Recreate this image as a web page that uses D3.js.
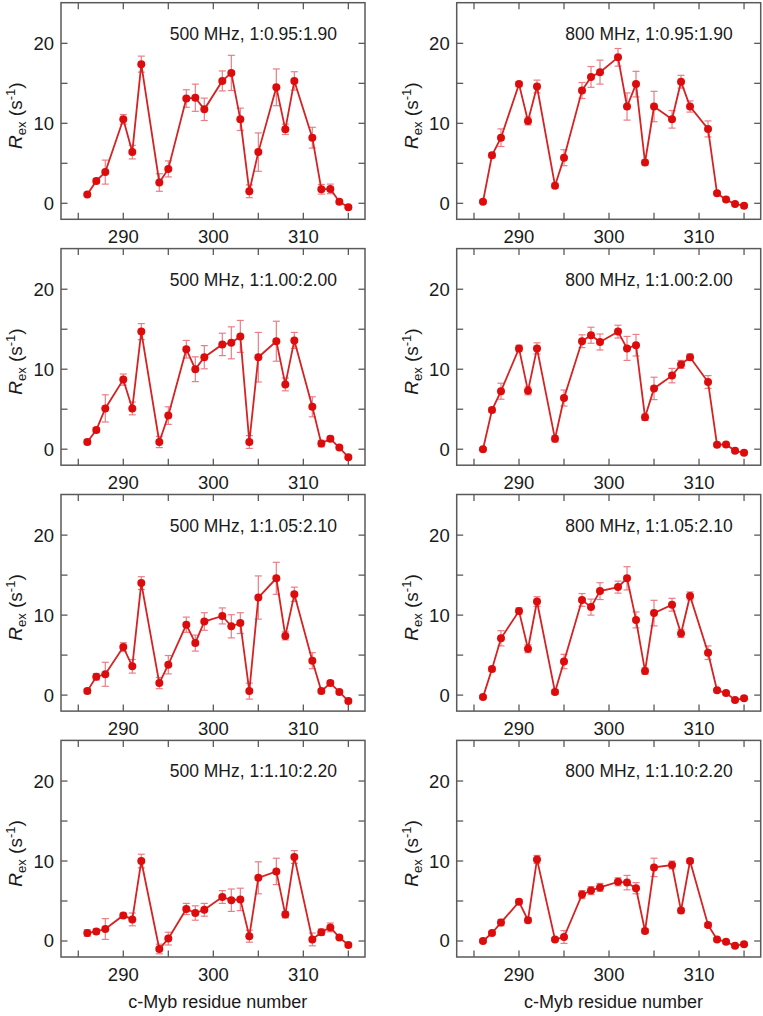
<!DOCTYPE html>
<html><head><meta charset="utf-8">
<script src="https://cdn.jsdelivr.net/npm/d3@7"></script>
<style>
html,body{margin:0;padding:0;background:#fff;}
svg{display:block;font-family:"Liberation Sans",Arial,Helvetica,sans-serif;}
</style></head>
<body>
<svg id="c" width="763" height="1016"></svg>
<script>
// ---- data ----
const residues = [286,287,288,290,291,292,294,295,297,298,299,301,302,303,304,305,307,308,309,311,312,313,314,315];
const panelLabels = ["500 MHz, 1:0.95:1.90","800 MHz, 1:0.95:1.90","500 MHz, 1:1.00:2.00","800 MHz, 1:1.00:2.00",
                     "500 MHz, 1:1.05:2.10","800 MHz, 1:1.05:2.10","500 MHz, 1:1.10:2.20","800 MHz, 1:1.10:2.20"];
const xTicks = [285,290,295,300,305,310,315];
const xTickLabels = [290,300,310];
const yTicks = [0,5,10,15,20];
const yTickLabels = [0,10,20];

const rex500_095 = [1.1,2.8,3.9,10.5,6.4,17.4,2.6,4.3,13.1,13.2,11.75,15.3,16.3,10.5,1.5,6.4,14.5,9.25,15.3,8.2,1.75,1.8,0.2,-0.5];
const err500_095 = [0.2,0.3,1.5,0.6,0.85,1.0,1.1,1.0,1.1,1.7,1.4,1.25,2.2,1.4,0.8,2.4,2.3,0.65,1.15,1.3,0.6,0.6,0.2,0.2];
const rex800_095 = [0.2,6.0,8.2,14.9,10.3,14.6,2.2,5.7,14.1,15.8,16.4,18.25,12.1,14.9,5.1,12.1,10.5,15.2,12.1,9.3,1.25,0.46,-0.1,-0.3];
const err800_095 = [0.2,0.3,1.1,0.3,0.5,0.8,0.3,1.0,1.0,1.3,1.5,1.1,1.7,1.6,0.3,1.9,1.1,0.8,0.7,1.0,0.2,0.2,0.2,0.2];
const rex500_100 = [0.9,2.4,5.1,8.7,5.1,14.7,0.9,4.2,12.5,10.0,11.5,13.1,13.3,14.1,0.9,11.5,13.5,8.1,13.6,5.3,0.7,1.3,0.2,-1.0];
const err500_100 = [0.3,0.3,1.7,0.7,0.8,1.0,0.7,1.1,1.1,1.55,1.45,1.4,2.0,2.0,0.8,3.1,2.5,0.8,1.0,1.25,0.4,0.3,0.2,0.2];
const rex800_100 = [0.0,4.9,7.25,12.6,7.3,12.6,1.3,6.4,13.5,14.25,13.4,14.7,12.6,13.0,4.0,7.6,9.2,10.6,11.5,8.4,0.55,0.6,-0.2,-0.45];
const err800_100 = [0.2,0.3,1.0,0.4,0.5,0.7,0.4,1.0,0.8,1.0,1.0,0.8,1.5,1.35,0.4,1.4,0.9,0.5,0.4,0.8,0.2,0.2,0.2,0.2];
const rex500_105 = [0.5,2.3,2.6,6.0,3.6,14.0,1.5,3.8,8.8,6.5,9.2,9.9,8.6,9.0,0.5,12.2,14.6,7.4,12.6,4.3,0.5,1.5,0.4,-0.75];
const err500_105 = [0.3,0.4,1.5,0.55,0.85,0.8,0.7,1.15,0.95,1.0,1.1,1.0,1.45,1.3,1.0,2.7,2.0,0.5,0.9,1.0,0.3,0.3,0.2,0.2];
const rex800_105 = [-0.25,3.25,7.1,10.5,5.8,11.7,0.4,4.2,11.9,11.0,13.0,13.5,14.6,9.4,3.0,10.25,11.3,7.7,12.4,5.3,0.6,0.25,-0.6,-0.4];
const err800_105 = [0.2,0.3,0.95,0.4,0.5,0.6,0.3,0.9,0.8,1.0,1.05,0.75,1.45,1.0,0.4,1.6,0.8,0.5,0.5,0.85,0.2,0.2,0.2,0.2];
const rex500_110 = [1.0,1.2,1.5,3.2,2.7,10.0,-1.0,0.3,4.0,3.5,3.9,5.5,5.1,5.2,0.6,7.9,8.7,3.3,10.5,0.2,1.1,1.7,0.45,-0.5];
const err500_110 = [0.4,0.3,1.3,0.3,0.8,0.85,0.6,0.8,0.7,0.9,0.8,0.8,1.4,1.4,0.75,2.0,1.65,0.4,0.8,0.8,0.4,0.55,0.2,0.2];
const rex800_110 = [0.0,1.0,2.3,4.9,2.6,10.2,0.2,0.5,5.8,6.3,6.7,7.4,7.3,6.6,1.25,9.2,9.5,3.8,10.0,2.0,0.2,-0.1,-0.6,-0.4];
const err800_110 = [0.2,0.2,0.4,0.3,0.3,0.5,0.2,0.8,0.5,0.5,0.5,0.5,0.9,0.7,0.3,1.15,0.5,0.3,0.3,0.3,0.2,0.2,0.2,0.2];

const panelValues = [rex500_095,rex800_095,rex500_100,rex800_100,rex500_105,rex800_105,rex500_110,rex800_110];
const panelErrors = [err500_095,err800_095,err500_100,err800_100,err500_105,err800_105,err500_110,err800_110];

// ---- layout ----
const colLeft = [61, 456.7];
const rowTop = [2.7, 248.6, 494.5, 740.4];
const W = 304, H = 216.6;
const frameColor = "#5a5a5a";
const textColor = "#1a1a1a";
const lineColor = "#d62222";
const dotColor = "#dc0c0c";
const errColor = "#e8707a";

const svg = d3.select("#c");
const x = d3.scaleLinear().domain([283.08, 316.85]).range([0, W]);
const y = d3.scaleLinear().domain([-2.0, 25.08]).range([H, 0]);
const tickLen = 6.5;

panelValues.forEach((vals, i) => {
  const col = i % 2, row = Math.floor(i / 2);
  const g = svg.append("g").attr("transform", `translate(${colLeft[col]},${rowTop[row]})`);
  const errs = panelErrors[i];
  const pts = residues.map((r, k) => ({r, v: vals[k], e: errs[k]}));

  // ticks (inward on all sides)
  const tg = g.append("g").attr("stroke", frameColor).attr("stroke-width", 1.3);
  xTicks.forEach(t => {
    tg.append("line").attr("x1", x(t)).attr("x2", x(t)).attr("y1", H).attr("y2", H - tickLen);
    tg.append("line").attr("x1", x(t)).attr("x2", x(t)).attr("y1", 0).attr("y2", tickLen);
  });
  yTicks.forEach(t => {
    tg.append("line").attr("x1", 0).attr("x2", tickLen).attr("y1", y(t)).attr("y2", y(t));
    tg.append("line").attr("x1", W).attr("x2", W - tickLen).attr("y1", y(t)).attr("y2", y(t));
  });

  // tick labels
  g.append("g").selectAll("text").data(xTickLabels).join("text")
    .attr("x", d => x(d)).attr("y", H + 24).attr("text-anchor", "middle")
    .attr("font-size", 18.5).attr("fill", textColor).text(d => d);
  g.append("g").selectAll("text").data(yTickLabels).join("text")
    .attr("x", -7).attr("y", d => y(d) + 6.5).attr("text-anchor", "end")
    .attr("font-size", 18.5).attr("fill", textColor).text(d => d);

  // y title
  const yt = g.append("text").attr("transform", `translate(-39,${113}) rotate(-90)`)
    .attr("text-anchor", "middle").attr("font-size", 19).attr("fill", textColor);
  yt.append("tspan").attr("font-style", "italic").text("R");
  yt.append("tspan").attr("font-size", 13).attr("dy", 4).text("ex");
  yt.append("tspan").attr("dy", -4).text(" (s");
  yt.append("tspan").attr("font-size", 13).attr("dy", -7).text("-1");
  yt.append("tspan").attr("dy", 7).text(")");

  // error bars
  const eg = g.append("g").attr("stroke", errColor).attr("stroke-width", 1.2).attr("opacity", 0.9);
  pts.forEach(p => {
    const cx = x(p.r);
    eg.append("line").attr("x1", cx).attr("x2", cx).attr("y1", y(p.v - p.e)).attr("y2", y(p.v + p.e));
    eg.append("line").attr("x1", cx - 3.5).attr("x2", cx + 3.5).attr("y1", y(p.v - p.e)).attr("y2", y(p.v - p.e));
    eg.append("line").attr("x1", cx - 3.5).attr("x2", cx + 3.5).attr("y1", y(p.v + p.e)).attr("y2", y(p.v + p.e));
  });

  // line
  g.append("path").datum(pts)
    .attr("d", d3.line().x(d => x(d.r)).y(d => y(d.v)))
    .attr("fill", "none").attr("stroke", lineColor).attr("stroke-width", 1.8);

  // markers
  g.append("g").selectAll("circle").data(pts).join("circle")
    .attr("cx", d => x(d.r)).attr("cy", d => y(d.v)).attr("r", 4)
    .attr("fill", dotColor);

  // frame
  g.append("rect").attr("x", 0).attr("y", 0).attr("width", W).attr("height", H)
    .attr("fill", "none").attr("stroke", frameColor).attr("stroke-width", 1.5);

  // annotation
  g.append("text").attr("x", W - 28).attr("y", 37).attr("text-anchor", "end")
    .attr("font-size", 17.5).attr("fill", textColor).text(panelLabels[i]);

  // x title on bottom row
  if (row === 3) {
    g.append("text").attr("x", x(300.5)).attr("y", H + 51).attr("text-anchor", "middle")
      .attr("font-size", 18).attr("fill", textColor).text("c-Myb residue number");
  }
});
</script>
</body></html>
